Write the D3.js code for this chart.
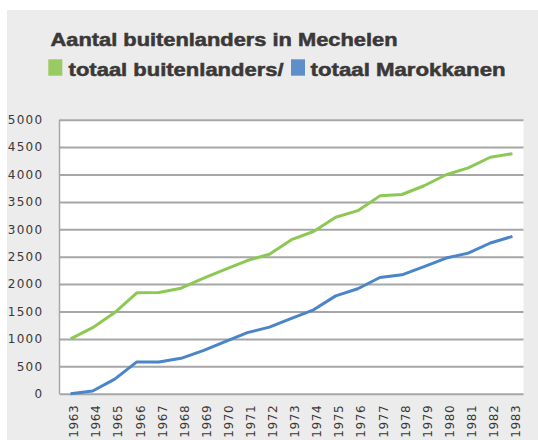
<!DOCTYPE html>
<html>
<head>
<meta charset="utf-8">
<script src="https://cdn.jsdelivr.net/npm/d3@7"></script>
<style>
  body { margin: 0; background: #fff; }
  svg { display: block; }
</style>
</head>
<body>
<div class="chartContainer"></div>
<script>
var years = ["1963","1964","1965","1966","1967","1968","1969","1970","1971","1972","1973",
             "1974","1975","1976","1977","1978","1979","1980","1981","1982","1983"];
var totaalBuitenlanders = [1000, 1205, 1480, 1840, 1845, 1925, 2105, 2270, 2430, 2545, 2810,
                           2960, 3220, 3340, 3610, 3635, 3795, 3995, 4120, 4315, 4380];
var totaalMarokkanen = [0, 50, 265, 580, 580, 645, 785, 950, 1115, 1215, 1375,
                        1530, 1785, 1915, 2120, 2170, 2320, 2475, 2565, 2750, 2870];
var yTicks = [0, 500, 1000, 1500, 2000, 2500, 3000, 3500, 4000, 4500, 5000];

var title = "Aantal buitenlanders in Mechelen";
var legendLabels = ["totaal buitenlanders/", "totaal Marokkanen"];

var width = 538;
var height = 440;
var textColor = "#3b3838";

var svg = d3.select(".chartContainer")
  .append("svg")
    .attr("width", width)
    .attr("height", height);

// grey panel
svg.append("rect")
    .attr("x", 7).attr("y", 10)
    .attr("width", width - 7).attr("height", height - 10)
    .style("fill", "#ebeceb");

var plot = { left: 59.5, right: 523.5, top: 119.7, bottom: 393.7 };

svg.append("rect")
    .attr("x", plot.left).attr("y", plot.top)
    .attr("width", plot.right - plot.left).attr("height", plot.bottom - plot.top)
    .style("fill", "#fff");

var x = d3.scalePoint()
    .domain(years)
    .range([plot.left, plot.right])
    .padding(0.5);

var y = d3.scaleLinear()
    .domain([0, 5000])
    .range([plot.bottom, plot.top]);

// ======= grid + y axis ========
var yAxis = svg.append("g")
    .attr("transform", "translate(" + plot.left + ",0)")
    .call(d3.axisLeft(y).tickValues(yTicks).tickFormat(d3.format("d"))
        .tickSize(-(plot.right - plot.left)).tickPadding(16));

yAxis.select(".domain").remove();
yAxis.selectAll(".tick line")
    .style("stroke", "#a6a6a6")
    .style("stroke-width", 2);
yAxis.selectAll(".tick text")
    .style("font-family", "'DejaVu Sans', Verdana, sans-serif")
    .style("font-size", "12px")
    .style("letter-spacing", "1.3px")
    .style("fill", textColor);

svg.append("line")
    .attr("x1", plot.left).attr("x2", plot.left)
    .attr("y1", plot.top).attr("y2", plot.bottom)
    .style("stroke", "#a6a6a6")
    .style("stroke-width", 1.5);

// ======= x axis ========
var xAxis = svg.append("g")
    .attr("transform", "translate(0," + plot.bottom + ")")
    .call(d3.axisBottom(x).tickSize(0));

xAxis.select(".domain").remove();
xAxis.selectAll(".tick text")
    .attr("transform", "rotate(-90)")
    .attr("x", -11)
    .attr("y", 3)
    .attr("dy", "0.35em")
    .style("text-anchor", "end")
    .style("font-family", "'DejaVu Sans', Verdana, sans-serif")
    .style("font-size", "12px")
    .style("letter-spacing", "0.6px")
    .style("fill", textColor);

// ======= lines ========
var line = d3.line()
    .x(function(d, i) { return x(years[i]); })
    .y(function(d) { return y(d); });

svg.append("path")
    .datum(totaalBuitenlanders)
    .attr("d", line)
    .style("fill", "none")
    .style("stroke", "#8cc853")
    .style("stroke-width", 3)
    .style("stroke-linejoin", "round");

svg.append("path")
    .datum(totaalMarokkanen)
    .attr("d", line)
    .style("fill", "none")
    .style("stroke", "#4a85c9")
    .style("stroke-width", 3)
    .style("stroke-linejoin", "round");

// ======= title + legend ========
svg.append("text")
    .attr("x", 50.5)
    .attr("y", 45.7)
    .attr("textLength", 347)
    .attr("lengthAdjust", "spacingAndGlyphs")
    .style("font-family", "'Liberation Sans', Arial, sans-serif")
    .style("font-weight", "bold")
    .style("font-size", "17.5px")
    .style("fill", textColor)
    .style("stroke", textColor)
    .style("stroke-width", 0.5)
    .text(title);

var legend = [
  { label: legendLabels[0], color: "#99cb62", sq: 48.3, tx: 68.6, len: 215 },
  { label: legendLabels[1], color: "#5f8fca", sq: 291, tx: 310.6, len: 195 }
];

svg.selectAll(".legendSq")
    .data(legend)
  .enter().append("rect")
    .attr("class", "legendSq")
    .attr("x", function(d) { return d.sq; })
    .attr("y", 59.3)
    .attr("width", 14)
    .attr("height", 16.4)
    .style("fill", function(d) { return d.color; });

svg.selectAll(".legendText")
    .data(legend)
  .enter().append("text")
    .attr("class", "legendText")
    .attr("x", function(d) { return d.tx; })
    .attr("y", 75.7)
    .attr("textLength", function(d) { return d.len; })
    .attr("lengthAdjust", "spacingAndGlyphs")
    .style("font-family", "'Liberation Sans', Arial, sans-serif")
    .style("font-weight", "bold")
    .style("font-size", "18px")
    .style("fill", textColor)
    .style("stroke", textColor)
    .style("stroke-width", 0.5)
    .text(function(d) { return d.label; });
</script>
</body>
</html>
